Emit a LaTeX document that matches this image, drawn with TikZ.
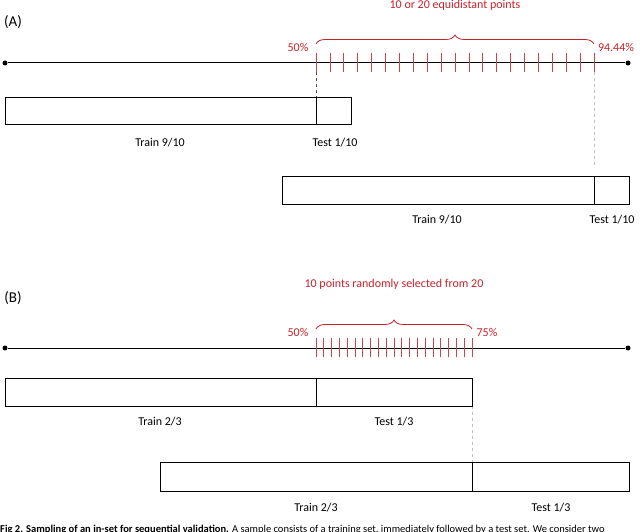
\documentclass[tikz,border=0pt]{standalone}
\usepackage{fontspec}
\setmainfont{Carlito}
\usetikzlibrary{decorations.pathreplacing}
\definecolor{myred}{HTML}{C8202A}
\tikzset{
  lbl/.style={font=\fontsize{12pt}{14pt}\selectfont, inner sep=0pt},
  rlbl/.style={lbl, text=myred},
  bar/.style={draw=black, line width=0.7pt},
  axis/.style={line width=1pt},
  tick/.style={myred!85, line width=0.7pt},
  brc/.style={myred, line width=0.8pt, decorate, decoration={brace, amplitude=9pt}},
  dot/.style={circle, fill=black, inner sep=0pt, minimum size=5pt}
}
\begin{document}
\begin{tikzpicture}[x=1pt,y=-1pt]
\useasboundingbox (0,0) rectangle (640,532);
\clip (0,0) rectangle (640,532);
% (A)
\node[font=\fontsize{15pt}{17pt}\selectfont, inner sep=0pt] (la) at (13,22) {(A)};
\node[dot] (a0) at (5,63) {};
\node[dot] (a1) at (628,63) {};
\draw[axis] (a0) -- (a1);
\foreach \i in {0,...,20} {\draw[tick] ({316+\i*13.9},53) -- ({316+\i*13.9},72);}
\coordinate (ba) at (316,44); \coordinate (bb) at (594,44);
\draw[brc] (ba) -- (bb);
\node[rlbl] (ta) at (455,5) {10 or 20 equidistant points};
\node[rlbl] (pa) at (298,47) {50\%};
\node[rlbl] (qa) at (616,47) {94.44\%};
\coordinate (d1a) at (316,72); \coordinate (d1b) at (316,97);
\draw[dashed, black!70, line width=0.6pt] (d1a) -- (d1b);
\coordinate (d2a) at (594,72); \coordinate (d2b) at (594,168);
\draw[dashed, black!25, line width=0.8pt] (d2a) -- (d2b);
\draw[bar] (5,97) rectangle (351,124); \draw[bar] (316,97) -- (316,124);
\node[lbl] (t1) at (160,143) {Train 9/10};
\node[lbl] (s1) at (335,143) {Test 1/10};
\draw[bar] (282,176) rectangle (629,204); \draw[bar] (594,176) -- (594,204);
\node[lbl] (t2) at (437,220) {Train 9/10};
\node[lbl] (s2) at (612,220) {Test 1/10};
% (B)
\node[font=\fontsize{15pt}{17pt}\selectfont, inner sep=0pt] (lb) at (13,298) {(B)};
\node[dot] (b0) at (5,348) {};
\node[dot] (b1) at (628,348) {};
\draw[axis] (b0) -- (b1);
\foreach \i in {0,...,20} {\draw[tick] ({316+\i*7.8},338) -- ({316+\i*7.8},357);}
\coordinate (bc) at (316,329); \coordinate (bd) at (472,329);
\draw[brc] (bc) -- (bd);
\node[rlbl] (tb) at (394,284) {10 points randomly selected from 20};
\node[rlbl] (pb) at (298,332) {50\%};
\node[rlbl] (qb) at (487,332) {75\%};
\coordinate (d3a) at (472,406); \coordinate (d3b) at (472,462);
\draw[dashed, black!25, line width=0.8pt] (d3a) -- (d3b);
\draw[bar] (5,378) rectangle (472,406); \draw[bar] (316,378) -- (316,406);
\node[lbl] (t3) at (160,422) {Train 2/3};
\node[lbl] (s3) at (394,422) {Test 1/3};
\draw[bar] (160,462) rectangle (629,491); \draw[bar] (472,462) -- (472,491);
\node[lbl] (t4) at (316,508) {Train 2/3};
\node[lbl] (s4) at (551,508) {Test 1/3};
\node[anchor=west, inner sep=0pt, font=\fontsize{10.5pt}{12pt}\selectfont] (cap) at (0,530)
  {\textbf{Fig 2. Sampling of an in-set for sequential validation.} A sample consists of a training set, immediately followed by a test set. We consider two};
\end{tikzpicture}
\end{document}
